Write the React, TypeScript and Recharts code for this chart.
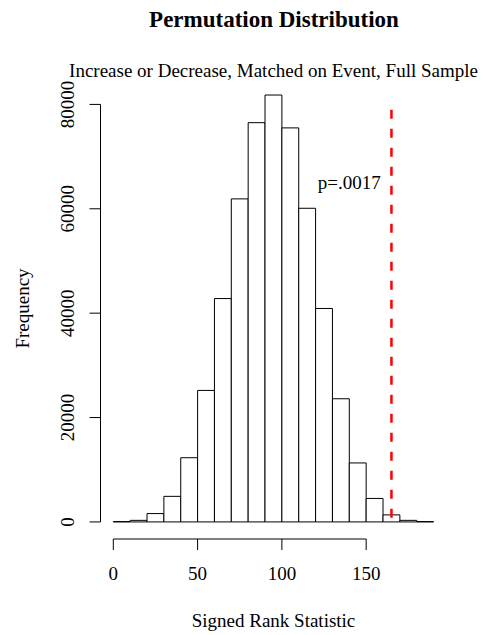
import React from "react";
import {
  ComposedChart,
  XAxis,
  YAxis,
  ReferenceArea,
  ReferenceLine,
  ReferenceDot,
} from "recharts";

// histogram bins (width 10) and counts
const binStarts = [0, 10, 20, 30, 40, 50, 60, 70, 80, 90, 100, 110, 120, 130, 140, 150, 160, 170, 180];
const counts = [60, 300, 1600, 4900, 12300, 25200, 42800, 61900, 76500, 81800, 75500, 60100, 40900, 23600, 11300, 4500, 1350, 300, 60];
const binWidth = 10;

const xTicks = [0, 50, 100, 150];
const yTicks = [0, 20000, 40000, 60000, 80000];

const observed = 165;
const observedTop = 79000;
const pLabel = "p=.0017";

// R style 4% padding of the axis ranges
const X_MIN = -7.6;
const X_MAX = 197.6;
const Y_MIN = -3272;
const Y_MAX = 85062;

const FONT = "'Liberation Serif', 'Times New Roman', serif";

const bins = binStarts.map((s, i) => ({ start: s, end: s + binWidth, count: counts[i] }));

const XTick = (props: any) => {
  const { x, y, payload } = props;
  return (
    <g>
      <line x1={x} x2={x} y1={y} y2={y + 11} stroke="#000" />
      <text x={x} y={y + 41} textAnchor="middle" fontFamily={FONT} fontSize={19} fill="#000">
        {payload.value}
      </text>
    </g>
  );
};

const YTick = (props: any) => {
  const { x, y, payload } = props;
  return (
    <g>
      <line x1={x - 11} x2={x} y1={y} y2={y} stroke="#000" />
      <text
        x={x - 26}
        y={y}
        textAnchor="middle"
        transform={`rotate(-90, ${x - 26}, ${y})`}
        fontFamily={FONT}
        fontSize={19}
        fill="#000"
      >
        {payload.value}
      </text>
    </g>
  );
};

export default function App() {
  return (
    <div style={{ position: "absolute", left: 0, top: 0, width: 483, height: 635, background: "#fff" }}>
      <ComposedChart
        width={483}
        height={635}
        data={bins}
        margin={{ top: 78, right: 36.6, bottom: 46, left: 50.5 }}
      >
        <XAxis
          type="number"
          dataKey="start"
          domain={[X_MIN, X_MAX]}
          ticks={xTicks}
          allowDataOverflow
          axisLine={false}
          tickLine={false}
          tickSize={0}
          tickMargin={0}
          height={50}
          tick={<XTick />}
          interval={0}
        />
        <YAxis
          type="number"
          domain={[Y_MIN, Y_MAX]}
          ticks={yTicks}
          allowDataOverflow
          axisLine={false}
          tickLine={false}
          tickSize={0}
          tickMargin={0}
          width={50}
          tick={<YTick />}
          interval={0}
        />
        {bins.map((b) => (
          <ReferenceArea
            key={b.start}
            x1={b.start}
            x2={b.end}
            y1={0}
            y2={b.count}
            fill="#fff"
            fillOpacity={1}
            stroke="#000"
            strokeWidth={1}
            ifOverflow="visible"
          />
        ))}
        <ReferenceLine
          segment={[{ x: xTicks[0], y: Y_MIN }, { x: xTicks[xTicks.length - 1], y: Y_MIN }]}
          stroke="#000"
          ifOverflow="visible"
        />
        <ReferenceLine
          segment={[{ x: X_MIN, y: yTicks[0] }, { x: X_MIN, y: yTicks[yTicks.length - 1] }]}
          stroke="#000"
          ifOverflow="visible"
        />
        <ReferenceLine
          segment={[{ x: observed, y: observedTop }, { x: observed, y: 0 }]}
          stroke="#ff0000"
          strokeWidth={2.5}
          strokeDasharray="9 10"
          ifOverflow="visible"
        />
        <ReferenceDot
          x={140}
          y={65000}
          r={0}
          fill="none"
          stroke="none"
          label={{ value: pLabel, position: "center", fontFamily: FONT, fontSize: 19, fill: "#000" }}
        />
        <text x={274} y={27} textAnchor="middle" fontFamily={FONT} fontSize={23} fontWeight="bold" fill="#000">
          Permutation Distribution
        </text>
        <text x={273.5} y={77} textAnchor="middle" fontFamily={FONT} fontSize={19} fill="#000">
          Increase or Decrease, Matched on Event, Full Sample
        </text>
        <text x={273.5} y={627} textAnchor="middle" fontFamily={FONT} fontSize={19} fill="#000">
          Signed Rank Statistic
        </text>
        <text
          x={29}
          y={308.5}
          textAnchor="middle"
          transform="rotate(-90, 29, 308.5)"
          fontFamily={FONT}
          fontSize={19}
          fill="#000"
        >
          Frequency
        </text>
      </ComposedChart>
    </div>
  );
}
